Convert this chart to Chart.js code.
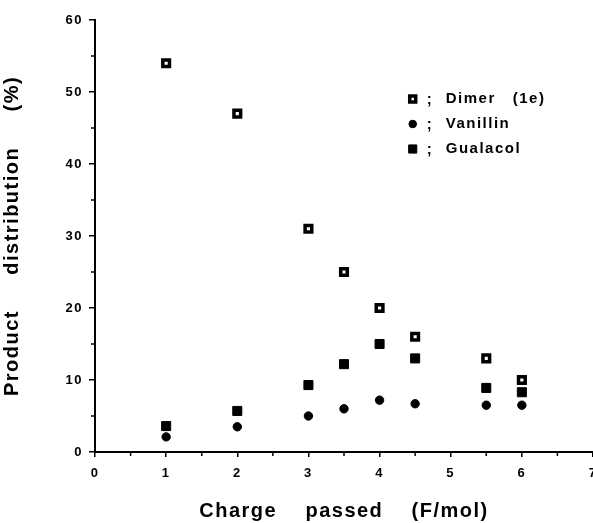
<!DOCTYPE html>
<html>
<head>
<meta charset="utf-8">
<script src="https://cdn.jsdelivr.net/npm/chart.js@4"></script>
<style>
  html, body { margin: 0; padding: 0; background: #fff; }
  #wrap { width: 593px; height: 523px; }
</style>
</head>
<body>
<div id="wrap"><canvas id="plot"></canvas></div>
<script>
// values
const charge = [1, 2, 3, 3.5, 4, 4.5, 5.5, 6];
const dimer = [54, 47, 31, 25, 20, 16, 13, 10];
const vanillin = [2.1, 3.5, 5.0, 6.0, 7.2, 6.7, 6.5, 6.5];
const guaiacol = [3.6, 5.7, 9.3, 12.2, 15, 13, 8.9, 8.3];
const seriesNames = ['Dimer   (1e)', 'Vanillin', 'Gualacol'];
const xTicks = [0, 1, 2, 3, 4, 5, 6, 7];
const yTicks = [0, 10, 20, 30, 40, 50, 60];

const pts = vals => charge.map((x, i) => ({ x: x, y: vals[i] }));
const FONT = '"Liberation Sans", Arial, sans-serif';

// small minor ticks between the labelled ones
const minorTicks = {
    id: 'minorTicks',
    afterDraw(chart) {
        const c = chart.ctx, xs = chart.scales.x, ys = chart.scales.y;
        c.save();
        c.strokeStyle = '#000';
        c.lineWidth = 1.5;
        c.beginPath();
        for (let v = 5; v < 60; v += 10) {
            const py = ys.getPixelForValue(v);
            c.moveTo(xs.left - 4, py);
            c.lineTo(xs.left, py);
        }
        for (let v = 0.5; v < 7; v += 1) {
            const px = xs.getPixelForValue(v);
            c.moveTo(px, ys.bottom);
            c.lineTo(px, ys.bottom + 4);
        }
        c.stroke();
        c.restore();
    }
};

// legend written inside the plot: marker ; name
const markerLegend = {
    id: 'markerLegend',
    afterDraw(chart) {
        const c = chart.ctx, area = chart.chartArea;
        const x0 = area.left + (area.right - area.left) * 0.638;
        const y0 = area.top + 79;
        c.save();
        c.letterSpacing = '1.5px';
        chart.data.datasets.forEach((ds, i) => {
            const y = y0 + i * 25;
            c.fillStyle = ds.backgroundColor;
            c.strokeStyle = ds.borderColor;
            c.lineWidth = ds.borderWidth;
            Chart.helpers.drawPoint(c, {
                pointStyle: ds.pointStyle,
                radius: ds.pointRadius * 0.9,
                borderWidth: ds.borderWidth
            }, x0, y);
            c.fillStyle = '#000';
            c.font = 'bold 15px ' + FONT;
            c.textBaseline = 'middle';
            c.fillText(';', x0 + 14, y + 1);
            c.fillText(ds.label, x0 + 33, y);
        });
        c.restore();
    }
};

const spacing = {
    id: 'spacing',
    beforeDraw(chart) { chart.ctx.letterSpacing = '1.5px'; }
};

new Chart(document.getElementById('plot'), {
    type: 'scatter',
    data: {
        datasets: [{
            label: seriesNames[0],
            data: pts(dimer),
            pointStyle: 'rect',
            pointRadius: 4.7,
            backgroundColor: '#fff',
            borderColor: '#000',
            borderWidth: 3.5
        }, {
            label: seriesNames[1],
            data: pts(vanillin),
            pointStyle: 'circle',
            pointRadius: 4.2,
            backgroundColor: '#000',
            borderColor: '#000',
            borderWidth: 1
        }, {
            label: seriesNames[2],
            data: pts(guaiacol),
            pointStyle: 'rect',
            pointRadius: 6.4,
            backgroundColor: '#000',
            borderColor: '#000',
            borderWidth: 1
        }]
    },
    options: {
        responsive: true,
        maintainAspectRatio: false,
        animation: false,
        events: [],
        layout: { autoPadding: false, padding: { top: 20, right: 0, left: 0, bottom: 0 } },
        plugins: {
            legend: { display: false },
            tooltip: { enabled: false }
        },
        scales: {
            x: {
                type: 'linear',
                min: 0,
                max: 7,
                afterBuildTicks: s => { s.ticks = xTicks.map(v => ({ value: v })); },
                afterFit: s => { s.height = 71; s.paddingRight = 0; },
                ticks: { color: '#000', padding: 9, font: { family: FONT, size: 13, weight: 'bold' } },
                grid: { drawOnChartArea: false, tickLength: 5, color: '#000', lineWidth: 1.5 },
                border: { color: '#000', width: 2 },
                title: {
                    display: true,
                    text: 'Charge    passed    (F/mol)',
                    color: '#000',
                    font: { family: FONT, size: 20, weight: 'bold' },
                    padding: { top: 0, bottom: 0 }
                }
            },
            y: {
                min: 0,
                max: 60,
                afterBuildTicks: s => { s.ticks = yTicks.map(v => ({ value: v })); },
                afterFit: s => { s.width = 95; },
                ticks: { color: '#000', padding: 6, font: { family: FONT, size: 13, weight: 'bold' } },
                grid: { drawOnChartArea: false, tickLength: 6, color: '#000', lineWidth: 1.5 },
                border: { color: '#000', width: 2 },
                title: {
                    display: true,
                    text: 'Product     distribution     (%)',
                    color: '#000',
                    font: { family: FONT, size: 20, weight: 'bold' },
                    padding: { top: 0, bottom: 9 }
                }
            }
        }
    },
    plugins: [spacing, minorTicks, markerLegend]
});
</script>
</body>
</html>
